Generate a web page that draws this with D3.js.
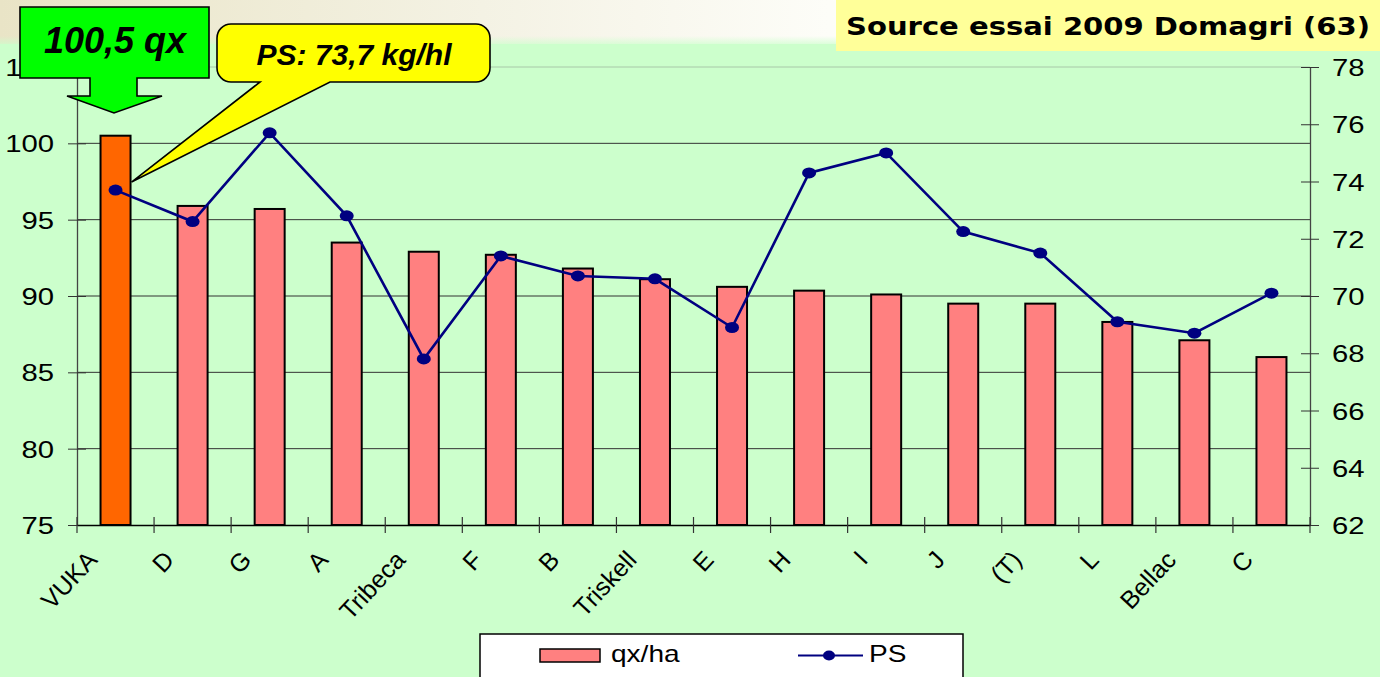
<!DOCTYPE html>
<html>
<head>
<meta charset="utf-8">
<script src="https://cdn.jsdelivr.net/npm/d3@7"></script>
<style>
  html, body { margin: 0; padding: 0; background: #CCFFCC; overflow: hidden; }
  svg { display: block; }
</style>
</head>
<body>
<svg id="chart" width="1380" height="677"></svg>
<script>
// ---------- DATA ----------
const categories = ["VUKA", "D", "G", "A", "Tribeca", "F", "B", "Triskell", "E", "H", "I", "J", "(T)", "L", "Bellac", "C"];
const yieldQx = [100.5, 95.9, 95.7, 93.5, 92.9, 92.7, 91.8, 91.1, 90.6, 90.35, 90.1, 89.5, 89.5, 88.3, 87.1, 86.0];
const psKgHl = [73.7, 72.6, 75.7, 72.8, 67.8, 71.4, 70.7, 70.6, 68.9, 74.3, 75.0, 72.25, 71.5, 69.1, 68.7, 70.1];
const leftTicks = [75, 80, 85, 90, 95, 100, 105];
const rightTicks = [62, 64, 66, 68, 70, 72, 74, 76, 78];
const gridValues = [80, 85, 90, 95, 100];
const seriesNames = ["qx/ha", "PS"];
const highlightCategory = "VUKA";
const calloutYield = "100,5 qx";
const calloutPS = "PS: 73,7 kg/hl";
const sourceText = "Source essai 2009 Domagri (63)";

// ---------- LAYOUT ----------
const W = 1380, H = 677;
const plot = { left: 77, right: 1310, top: 67, bottom: 525 };
const SX = 1.22; // horizontal stretch of the original chart text
const chartFont = "'Liberation Sans', Arial, sans-serif";
const green = "#CCFFCC";

const svg = d3.select("#chart");
const defs = svg.append("defs");

// background
svg.append("rect").attr("width", W).attr("height", H).attr("fill", green);
const gTop = defs.append("linearGradient").attr("id", "topband").attr("x1", 0).attr("x2", 1).attr("y1", 0).attr("y2", 0);
gTop.append("stop").attr("offset", "0%").attr("stop-color", "#E9E4C6");
gTop.append("stop").attr("offset", "35%").attr("stop-color", "#F4F2E4");
gTop.append("stop").attr("offset", "60%").attr("stop-color", "#FDFDF8");
gTop.append("stop").attr("offset", "100%").attr("stop-color", "#FFFFFF");
svg.append("rect").attr("x", 0).attr("y", 0).attr("width", W).attr("height", 44).attr("fill", "url(#topband)");
const gFade = defs.append("linearGradient").attr("id", "fade").attr("x1", 0).attr("x2", 0).attr("y1", 0).attr("y2", 1);
gFade.append("stop").attr("offset", "0%").attr("stop-color", green).attr("stop-opacity", 0);
gFade.append("stop").attr("offset", "100%").attr("stop-color", green).attr("stop-opacity", 1);
svg.append("rect").attr("x", 0).attr("y", 36).attr("width", W).attr("height", 12).attr("fill", "url(#fade)");

// ---------- SCALES ----------
const x = d3.scaleBand().domain(categories).range([plot.left, plot.right]).paddingInner(0).paddingOuter(0);
const yL = d3.scaleLinear().domain([75, 105]).range([plot.bottom, plot.top]);
const yR = d3.scaleLinear().domain([62, 78]).range([plot.bottom, plot.top]);
const barW = 30;

// gridlines
svg.append("g").selectAll("line").data(gridValues).join("line")
  .attr("x1", plot.left).attr("x2", plot.right)
  .attr("y1", d => yL(d)).attr("y2", d => yL(d))
  .attr("stroke", "#333").attr("stroke-width", 1);
svg.append("line").attr("x1", plot.left).attr("x2", plot.right)
  .attr("y1", yL(105)).attr("y2", yL(105)).attr("stroke", "#A8C8A8").attr("stroke-width", 1);

// bars
svg.append("g").selectAll("rect").data(categories).join("rect")
  .attr("x", d => x(d) + (x.bandwidth() - barW) / 2)
  .attr("width", barW)
  .attr("y", (d, i) => yL(yieldQx[i]))
  .attr("height", (d, i) => yL(75) - yL(yieldQx[i]))
  .attr("fill", d => d === highlightCategory ? "#FF6600" : "#FF8080")
  .attr("stroke", "#000").attr("stroke-width", 2);

// ---------- AXES ----------
function styleAxis(g) {
  g.attr("font-family", chartFont).attr("font-size", 23);
  g.selectAll("text").attr("fill", "#000");
}
// left
const axL = svg.append("g").attr("transform", `translate(${plot.left},0)`)
  .call(d3.axisLeft(yL).tickValues(leftTicks).tickSizeInner(9).tickSizeOuter(0).tickPadding(0));
styleAxis(axL);
axL.select(".domain").attr("stroke", "#444").attr("stroke-width", 1.3);
axL.selectAll(".tick line").attr("x1", 9).attr("x2", -9).attr("stroke", "#333");
axL.selectAll(".tick text").attr("x", 0).attr("dy", "0.36em").attr("text-anchor", "end")
  .attr("transform", `translate(-23,0) scale(${SX},1)`).attr("font-size", 24);

// right
const axR = svg.append("g").attr("transform", `translate(${plot.right},0)`)
  .call(d3.axisRight(yR).tickValues(rightTicks).tickSizeInner(9).tickSizeOuter(0).tickPadding(0));
styleAxis(axR);
axR.select(".domain").attr("stroke", "#444").attr("stroke-width", 1.3);
axR.selectAll(".tick line").attr("x1", -9).attr("x2", 9).attr("stroke", "#333");
axR.selectAll(".tick text").attr("x", 0).attr("dy", "0.36em").attr("text-anchor", "start")
  .attr("transform", `translate(22,0) scale(${SX},1)`).attr("font-size", 24);

// bottom
const axB = svg.append("g").attr("transform", `translate(0,${plot.bottom})`)
  .call(d3.axisBottom(x).tickSize(0).tickPadding(0));
styleAxis(axB);
axB.select(".domain").attr("stroke", "#000").attr("stroke-width", 1.5);
axB.selectAll(".tick text").attr("y", 0).attr("dy", 0).attr("text-anchor", "end")
  .attr("font-size", 25)
  .attr("transform", `translate(-17,36) rotate(-47)`);
// category boundary ticks
const bounds = categories.map(c => x(c)).concat([x(categories[categories.length - 1]) + x.step()]);
axB.append("g").selectAll("line").data(bounds).join("line")
  .attr("x1", d => d).attr("x2", d => d).attr("y1", -8).attr("y2", 8)
  .attr("stroke", "#333").attr("stroke-width", 1.2);

// ---------- PS LINE ----------
const cx = (d, i) => x(categories[i]) + x.bandwidth() / 2;
const line = d3.line().x((d, i) => cx(d, i)).y(d => yR(d));
svg.append("path").datum(psKgHl).attr("d", line)
  .attr("fill", "none").attr("stroke", "#000080").attr("stroke-width", 2.6);
svg.append("g").selectAll("ellipse").data(psKgHl).join("ellipse")
  .attr("cx", (d, i) => cx(d, i)).attr("cy", d => yR(d))
  .attr("rx", 7).attr("ry", 5.5).attr("fill", "#000080");

// ---------- LEGEND ----------
const lg = svg.append("g");
lg.append("rect").attr("x", 480).attr("y", 634).attr("width", 483).attr("height", 50)
  .attr("fill", "#fff").attr("stroke", "#000").attr("stroke-width", 1.5);
lg.append("rect").attr("x", 540).attr("y", 649).attr("width", 60).attr("height", 13)
  .attr("fill", "#FF8080").attr("stroke", "#000").attr("stroke-width", 1.5);
lg.append("text").text(seriesNames[0]).attr("font-family", chartFont).attr("font-size", 23)
  .attr("transform", `translate(611,661.5) scale(${SX},1)`);
lg.append("line").attr("x1", 798).attr("x2", 863).attr("y1", 655.5).attr("y2", 655.5)
  .attr("stroke", "#000080").attr("stroke-width", 2);
lg.append("ellipse").attr("cx", 829).attr("cy", 655.5).attr("rx", 6).attr("ry", 5).attr("fill", "#000080");
lg.append("text").text(seriesNames[1]).attr("font-family", chartFont).attr("font-size", 23)
  .attr("transform", `translate(869,661.5) scale(${SX},1)`);

// ---------- SOURCE BOX ----------
svg.append("rect").attr("x", 836).attr("y", 0).attr("width", 544).attr("height", 51).attr("fill", "#FFFF99");
svg.append("text").text(sourceText).attr("x", 846).attr("y", 35)
  .attr("font-family", "'DejaVu Sans', Verdana, sans-serif").attr("font-weight", "bold").attr("font-size", 24)
  .attr("textLength", 524).attr("lengthAdjust", "spacingAndGlyphs").attr("fill", "#000");

// ---------- CALLOUTS ----------
// yellow speech bubble pointing at the VUKA PS value
const tipX = cx(0, 0) + 16, tipY = yR(psKgHl[0]) - 8;
const L = 217, T = 24, R = 490, B = 82, r = 14;
const bubble = `M${L + r},${T} H${R - r} A${r},${r} 0 0 1 ${R},${T + r} V${B - r} A${r},${r} 0 0 1 ${R - r},${B}` +
  ` H330 L${tipX},${tipY} L260,${B} H${L + r} A${r},${r} 0 0 1 ${L},${B - r} V${T + r} A${r},${r} 0 0 1 ${L + r},${T} Z`;
svg.append("path").attr("d", bubble).attr("fill", "#FFFF00").attr("stroke", "#000").attr("stroke-width", 1.6);
svg.append("text").text(calloutPS).attr("x", 354).attr("y", 65).attr("text-anchor", "middle")
  .attr("font-family", chartFont).attr("font-weight", "bold").attr("font-style", "italic").attr("font-size", 30);

// green arrow box pointing down at the VUKA bar
const arrow = "M20,7 H209 V78 H137 V96 H162 L114,113 L67,96 H90 V78 H20 Z";
svg.append("path").attr("d", arrow).attr("fill", "#00FF00").attr("stroke", "#000").attr("stroke-width", 1.6);
svg.append("text").text(calloutYield).attr("x", 115).attr("y", 53).attr("text-anchor", "middle")
  .attr("font-family", chartFont).attr("font-weight", "bold").attr("font-style", "italic").attr("font-size", 36);
</script>
</body>
</html>
